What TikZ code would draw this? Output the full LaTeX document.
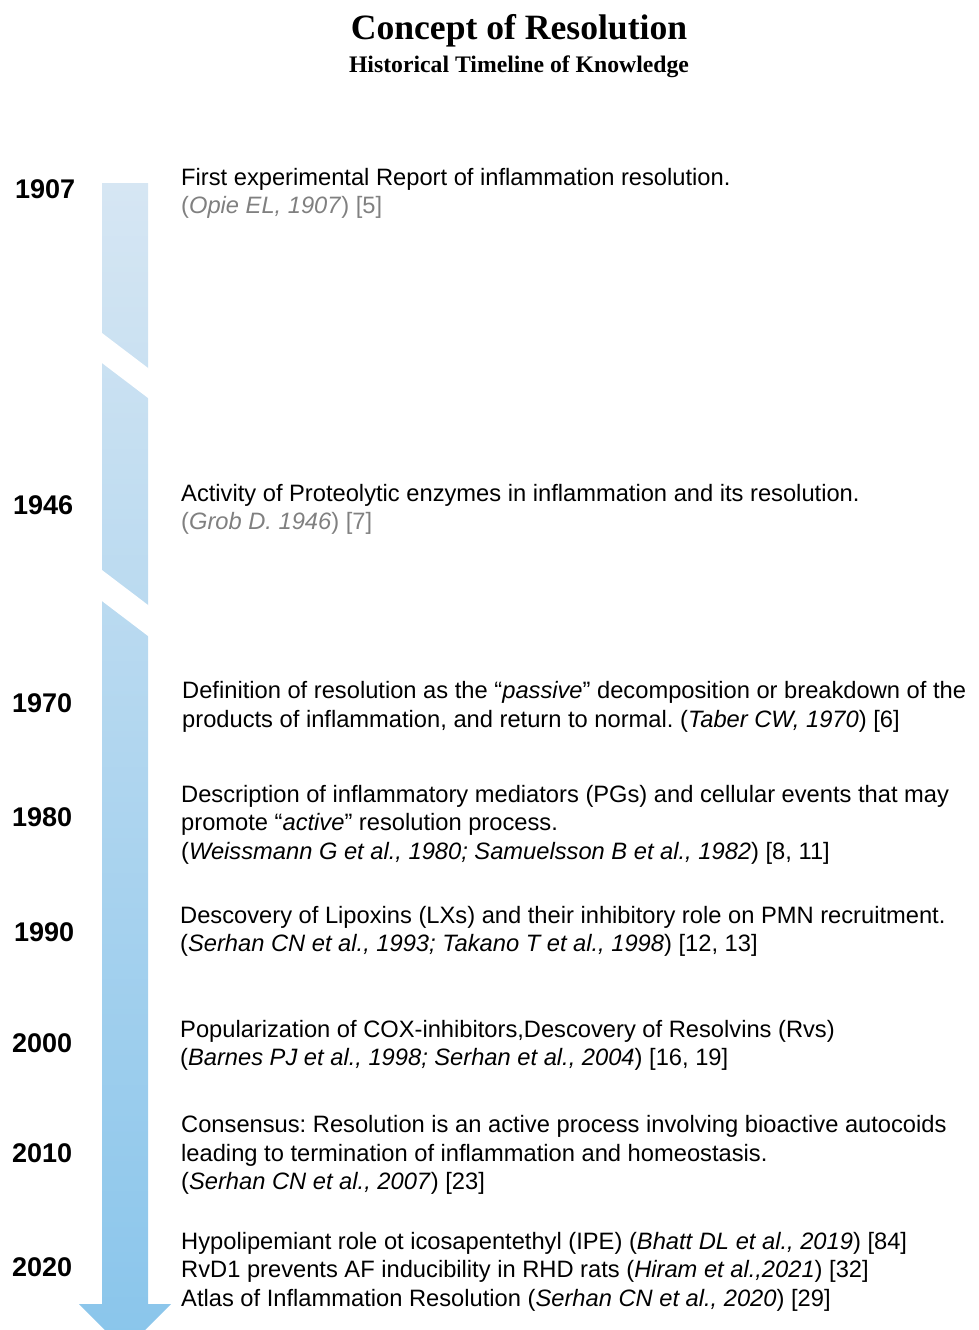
\documentclass[tikz,border=0pt]{standalone}
\usepackage{fontspec}
\setmainfont{Liberation Sans}
\newfontfamily\titlefont{Liberation Serif}
\definecolor{bartop}{RGB}{214,230,243}
\definecolor{barbot}{RGB}{137,197,235}
\definecolor{citegray}{RGB}{128,128,128}
\frenchspacing
\begin{document}
\frenchspacing
\begin{tikzpicture}[x=1pt,y=-1pt,
  txt/.style={anchor=base west, inner sep=0pt, font=\fontsize{23.7}{28.5}\selectfont\frenchspacing},
  gry/.style={txt, text=citegray},
  yr/.style={anchor=base west, inner sep=0pt, font=\fontsize{27}{32}\selectfont\bfseries},
  gap/.style={fill=white, draw=none}]
\useasboundingbox (0,0) rectangle (979,1330);
% title
\node[anchor=base, inner sep=0pt, font=\fontsize{35.6}{40}\selectfont\titlefont\bfseries] (title) at (519,40) {Concept of Resolution};
\node[anchor=base, inner sep=0pt, font=\fontsize{23.7}{28}\selectfont\titlefont\bfseries] (subtitle) at (519,72) {Historical Timeline of Knowledge};
% arrow
\shade[top color=bartop, bottom color=barbot] (102,183) -- (148,183) -- (148,1304) -- (171,1304) -- (125,1350) -- (79,1304) -- (102,1304) -- cycle;
\fill[gap] (98,330) -- (152,371) -- (152,401) -- (98,360) -- cycle;
\fill[gap] (98,567) -- (152,608) -- (152,639) -- (98,598) -- cycle;
% years
\node[yr] (y1907) at (15,198) {1907};
\node[yr] (y1946) at (13,514) {1946};
\node[yr] (y1970) at (12,712) {1970};
\node[yr] (y1980) at (12,826) {1980};
\node[yr] (y1990) at (14,941) {1990};
\node[yr] (y2000) at (12,1052) {2000};
\node[yr] (y2010) at (12,1162) {2010};
\node[yr] (y2020) at (12,1276) {2020};
% entries
\node[txt] (a1) at (181,185) {First experimental Report of inflammation resolution.};
\node[gry] (a2) at (181,213) {(\textit{Opie EL, 1907}) [5]};
\node[txt] (b1) at (181,501) {Activity of Proteolytic enzymes in inflammation and its resolution.};
\node[gry] (b2) at (181,529) {(\textit{Grob D. 1946}) [7]};
\node[txt] (c1) at (182,698) {Definition of resolution as the “\textit{passive}” decomposition or breakdown of the};
\node[txt] (c2) at (182,727) {products of inflammation, and return to normal. (\textit{Taber CW, 1970}) [6]};
\node[txt] (d1) at (181,802) {Description of inflammatory mediators (PGs) and cellular events that may};
\node[txt] (d2) at (181,830) {promote “\textit{active}” resolution process.};
\node[txt] (d3) at (181,859) {(\textit{Weissmann G et al., 1980; Samuelsson B et al., 1982}) [8, 11]};
\node[txt] (e1) at (180,923) {Descovery of Lipoxins (LXs) and their inhibitory role on PMN recruitment.};
\node[txt] (e2) at (180,951) {(\textit{Serhan CN et al., 1993; Takano T et al., 1998}) [12, 13]};
\node[txt] (f1) at (180,1037) {Popularization of COX-inhibitors,Descovery of Resolvins (Rvs)};
\node[txt] (f2) at (180,1065) {(\textit{Barnes PJ et al., 1998; Serhan et al., 2004}) [16, 19]};
\node[txt] (g1) at (181,1132) {Consensus: Resolution is an active process involving bioactive autocoids};
\node[txt] (g2) at (181,1161) {leading to termination of inflammation and homeostasis.};
\node[txt] (g3) at (181,1189) {(\textit{Serhan CN et al., 2007}) [23]};
\node[txt] (h1) at (181,1249) {Hypolipemiant role ot icosapentethyl (IPE) (\textit{Bhatt DL et al., 2019}) [84]};
\node[txt] (h2) at (181,1277) {RvD1 prevents AF inducibility in RHD rats (\textit{Hiram et al.,2021}) [32]};
\node[txt] (h3) at (181,1306) {Atlas of Inflammation Resolution (\textit{Serhan CN et al., 2020}) [29]};
\end{tikzpicture}
\end{document}
